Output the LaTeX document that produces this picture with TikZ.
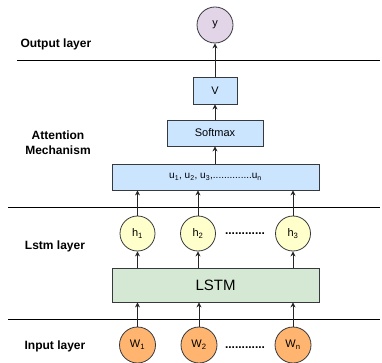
\documentclass[tikz,border=0pt]{standalone}
\usepackage{fontspec}
\setmainfont{Liberation Sans}
\usetikzlibrary{arrows.meta}
\definecolor{ypurple}{HTML}{E1D5E7}
\definecolor{bblue}{HTML}{CCE5FF}
\definecolor{lgreen}{HTML}{D5E8D4}
\definecolor{hyellow}{HTML}{FFFFCC}
\definecolor{worange}{HTML}{FFB570}
\definecolor{edge}{HTML}{36393D}
\begin{document}
\begin{tikzpicture}[x=1pt,y=-1pt,
  circ/.style={circle,draw=edge,line width=0.8pt,minimum size=#1,inner sep=0pt,font=\fontsize{11}{12}\selectfont},
  box/.style={rectangle,draw=edge,line width=0.8pt,fill=bblue,inner sep=0pt,font=\fontsize{11}{12}\selectfont},
  arr/.style={-{Stealth[length=5pt,width=5pt]},line width=0.8pt,draw=black!85},
  sep/.style={line width=1.2pt},
  dots/.style={font=\bfseries\fontsize{12}{12}\selectfont,inner sep=0pt},
  lbl/.style={font=\bfseries\fontsize{12}{15}\selectfont,align=center}]
\useasboundingbox (0,0) rectangle (382,363);
% separators
\draw[sep] (17,60.5) -- (380,60.5);
\draw[sep] (8,207.5) -- (380,207.5);
\draw[sep] (8,319.5) -- (380,319.5);
% labels
\node[lbl,anchor=west] (lo) at (17,44) {Output layer};
\node[lbl] (la) at (58,143) {Attention\\Mechanism};
\node[lbl] (ll) at (55,246) {Lstm layer};
\node[lbl] (li) at (55,346) {Input layer};
% nodes
\node[circ=36pt,fill=ypurple] (y) at (215,25) {y};
\node[box,minimum width=44pt,minimum height=27pt] (V) at (215,90.5) {V};
\node[box,minimum width=96pt,minimum height=26pt] (soft) at (215,133) {Softmax};
\node[box,minimum width=207pt,minimum height=26pt,font=\fontsize{10}{12}\selectfont] (u) at (215.5,177) {u\textsubscript{1}, u\textsubscript{2}, u\textsubscript{3},..............u\textsubscript{n}};
\node[circ=35pt,fill=hyellow] (h1) at (137.5,233.5) {h\textsubscript{1}};
\node[circ=35pt,fill=hyellow] (h2) at (198,233.5) {h\textsubscript{2}};
\node[circ=35pt,fill=hyellow] (h3) at (293,233.5) {h\textsubscript{3}};
\node[dots,anchor=base] (hd) at (245,234) {............};
\node[box,fill=lgreen,minimum width=207pt,minimum height=34pt,font=\fontsize{15}{16}\selectfont] (lstm) at (215.5,285) {LSTM};
\node[circ=36pt,fill=worange] (w1) at (137.5,345) {W\textsubscript{1}};
\node[circ=36pt,fill=worange] (w2) at (199,345) {W\textsubscript{2}};
\node[circ=36pt,fill=worange] (wn) at (293,345) {W\textsubscript{n}};
\node[dots,anchor=base] (wd) at (245,348) {............};
% arrows
\foreach \n in {w1,w2,wn}{\draw[arr] (\n.north) -- (\n.north |- lstm.south);}
\foreach \n in {h1,h2,h3}{\draw[arr] (\n.south |- lstm.north) -- (\n.south);}
\foreach \n in {h1,h2,h3}{\draw[arr] (\n.north) -- (\n.north |- u.south);}
\draw[arr] (soft.south |- u.north) -- (soft.south);
\draw[arr] (soft.north) -- (V.south);
\draw[arr] (V.north) -- (y.south);
\end{tikzpicture}
\end{document}
